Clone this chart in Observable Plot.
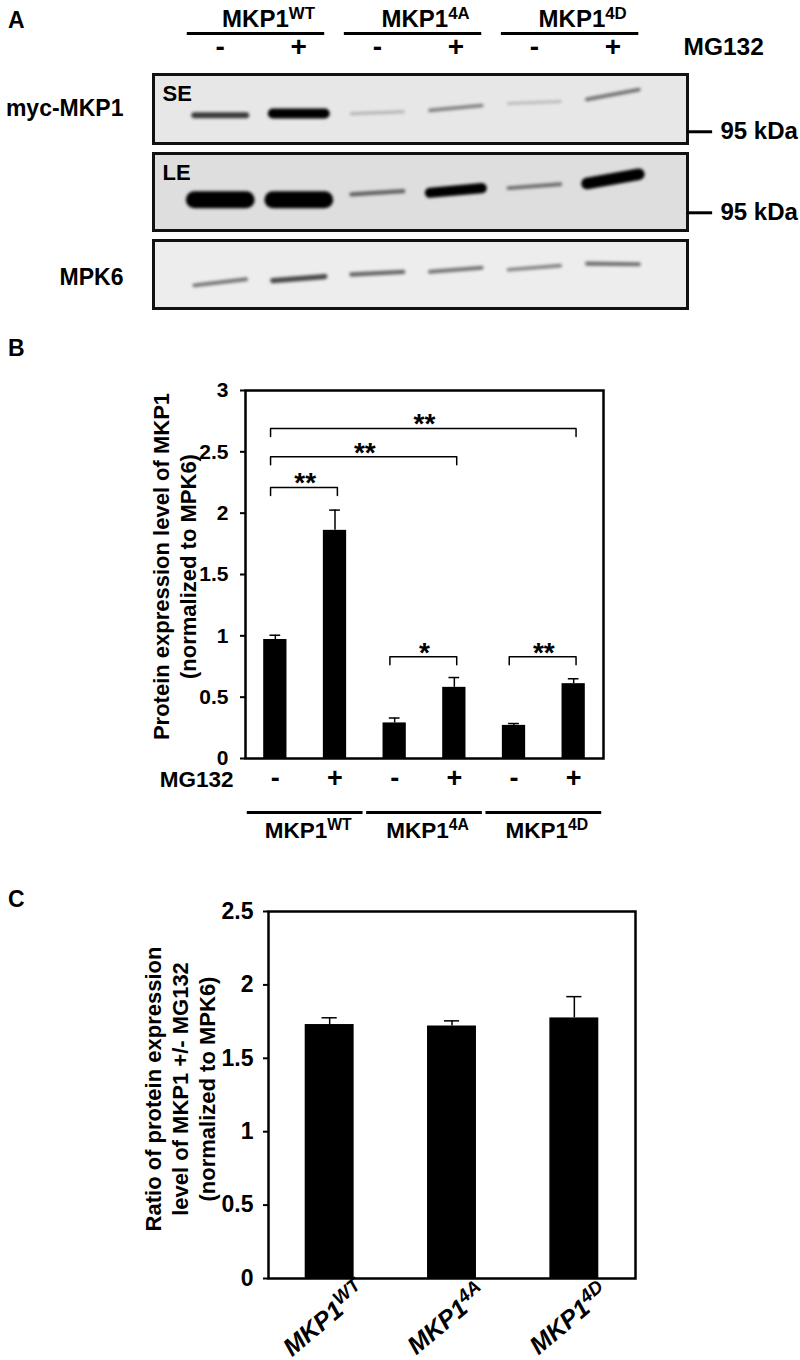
<!DOCTYPE html>
<html><head><meta charset="utf-8">
<script src="https://cdn.jsdelivr.net/npm/d3@7"></script>
<script src="https://cdn.jsdelivr.net/npm/@observablehq/plot@0.6"></script>
<style>
body{margin:0;background:#fff;}
#fig{position:relative;width:800px;height:1360px;overflow:hidden;font-family:"Liberation Sans",Arial,Helvetica,sans-serif;font-weight:bold;color:#000;background:#fff;}
#fig svg{position:absolute;left:0;overflow:visible;}
.panel{position:absolute;left:8px;font-size:23px;font-weight:bold;line-height:1;}
#fig g[aria-label^="y-axis"] line,#fig g[aria-label^="y-axis"] path{stroke-width:2px;}
</style></head><body><div id="fig"></div>
<script>
// ---------- data ----------
const lanes = [1, 2, 3, 4, 5, 6];
const mg132 = ["-", "+", "-", "+", "-", "+"];
const genotypes = ["MKP1^WT", "MKP1^4A", "MKP1^4D"];
const genoFirstLane = [1, 3, 5];
const genoLastLane = [2, 4, 6];

// blot band signal (0-1) and band position (fraction of strip height from top, left/right end)
const seSignal = [0.6, 0.8, 0.18, 0.35, 0.15, 0.4];
const seLeft  = [0.59, 0.565, 0.57, 0.52, 0.42, 0.36];
const seRight = [0.59, 0.565, 0.54, 0.45, 0.39, 0.22];
const leSignal = [1.0, 1.0, 0.45, 0.8, 0.4, 0.85];
const leLeft  = [0.60, 0.60, 0.53, 0.51, 0.45, 0.39];
const leRight = [0.60, 0.60, 0.49, 0.45, 0.40, 0.27];
const mpkSignal = [0.4, 0.55, 0.45, 0.4, 0.35, 0.42];
const mpkLeft  = [0.66, 0.59, 0.50, 0.46, 0.43, 0.34];
const mpkRight = [0.57, 0.53, 0.46, 0.40, 0.37, 0.35];
const marker95 = ["95 kDa"];
const markerSE = 0.83;
const markerLE = 0.77;

// panel B
const expr    = [0.97, 1.86, 0.29, 0.58, 0.27, 0.61];
const exprErr = [0.035, 0.165, 0.04, 0.08, 0.015, 0.04];
const sigFrom  = [1, 1, 1, 3, 5];
const sigTo    = [2, 4, 6, 4, 6];
const sigLevel = [2.21, 2.46, 2.69, 0.83, 0.83];
const sigLabel = ["**", "**", "**", "*", "**"];
const yLabelB = "Protein expression level of MKP1\n(normalized to MPK6)";

// panel C
const ratio    = [1.73, 1.72, 1.775];
const ratioErr = [0.046, 0.035, 0.145];
const yLabelC = "Ratio of protein expression\nlevel of MKP1 +/- MG132\n(normalized to MPK6)";

// ---------- helpers ----------
const W = 800;
const FONT = "'Liberation Sans', Arial, Helvetica, sans-serif";
const baseStyle = {fontFamily: FONT, fontWeight: "bold", fontSize: "20px", color: "#000", background: "transparent", overflow: "visible"};
const fig = document.getElementById("fig");
function place(svg, top) { svg.style.top = top + "px"; fig.append(svg); return svg; }
function supify(svg, raise, size) {
  const ns = "http://www.w3.org/2000/svg";
  svg.querySelectorAll("text").forEach(t => {
    const s = t.textContent;
    if (!s.includes("^") || t.querySelector("tspan")) return;
    const [a, b] = s.split("^");
    t.textContent = "";
    const t1 = document.createElementNS(ns, "tspan"); t1.textContent = a;
    const t2 = document.createElementNS(ns, "tspan"); t2.textContent = b;
    t2.setAttribute("font-size", size || "0.7em"); t2.setAttribute("dy", -raise);
    t.append(t1, t2);
  });
}
function panelLetter(letter, top) {
  const d = document.createElement("div"); d.className = "panel"; d.textContent = letter; d.style.top = top + "px"; fig.append(d);
}

// ---------- panel A ----------
panelLetter("A", 9);
const laneX = [0.15, 6.95];
const header = Plot.plot({
  width: W, height: 66, marginLeft: 153, marginRight: 113, marginTop: 0, marginBottom: 0,
  x: {domain: laneX, axis: null},
  y: {type: "point", domain: ["group", "line", "sign"], range: [12, 54], axis: null},
  style: baseStyle,
  marks: [
    Plot.ruleY(genotypes, {y: () => "line", x1: (d, i) => genoFirstLane[i] - 0.42, x2: (d, i) => genoLastLane[i] + 0.33, strokeWidth: 3}),
    Plot.text(genotypes, {x: (d, i) => (genoFirstLane[i] + genoLastLane[i]) / 2, y: () => "group", text: d => d, dx: 9, fontSize: 24}),
    Plot.text(lanes, {x: d => d, y: () => "sign", text: (d, i) => mg132[i], fontSize: 28}),
    Plot.text(["MG132"], {frameAnchor: "right", y: () => "sign", text: d => d, textAnchor: "start", dx: -4, fontSize: 24.5})
  ]
});
supify(header, 8);
place(header, 0);

function strip(signal, left, right, opts) {
  const data = lanes.map((lane, i) => ({lane, v: signal[i], yl: left[i], yr: right[i]}));
  const marks = [
    Plot.frame({fill: opts.fill}),
    Plot.link(data, {x1: d => d.lane - 0.33, x2: d => d.lane + 0.33, y1: "yl", y2: "yr", stroke: "#000",
      strokeOpacity: d => Math.min(1, d.v / 0.8), strokeWidth: d => 3 + 14 * d.v ** 3, strokeLinecap: "round"}),
    Plot.frame({stroke: "#111", strokeWidth: 3})
  ];
  if (opts.tag) marks.push(Plot.text([opts.tag], {frameAnchor: "top-left", text: d => d, dx: 9, dy: 11, lineAnchor: "top", textAnchor: "start", fontSize: 22}));
  if (opts.row) marks.push(Plot.text([opts.row], {frameAnchor: "left", text: d => d, textAnchor: "end", dx: -30, dy: opts.rowDy || 0, fontSize: 23}));
  if (opts.marker != null) {
    marks.push(Plot.ruleY([opts.marker], {y: d => d, x1: () => laneX[1], x2: () => laneX[1] + 0.32, strokeWidth: 3}));
    marks.push(Plot.text(marker95, {y: () => opts.marker, x: () => laneX[1], text: d => d, textAnchor: "start", dx: 33, fontSize: 24}));
  }
  const svg = Plot.plot({
    width: W, height: opts.height, marginLeft: 153, marginRight: 113, marginTop: 4, marginBottom: 4,
    x: {domain: laneX, axis: null},
    y: {domain: [0, 1], reverse: true, axis: null},
    opacity: {domain: [0, 1], range: [0, 1]},
    style: baseStyle,
    marks
  });
  svg.querySelectorAll('g[aria-label="link"]').forEach(g => g.style.filter = "blur(1.8px)");
  return place(svg, opts.top);
}
strip(seSignal, seLeft, seRight, {fill: "#e7e7e7", tag: "SE", row: "myc-MKP1", marker: markerSE, top: 70, height: 77});
strip(leSignal, leLeft, leRight, {fill: "#dedede", tag: "LE", marker: markerLE, top: 149, height: 85});
strip(mpkSignal, mpkLeft, mpkRight, {fill: "#ededed", row: "MPK6", rowDy: 3, top: 236, height: 76});

// ---------- panel B ----------
panelLetter("B", 337);
const bBars = lanes.map((i, k) => ({i, v: expr[k], e: exprErr[k], s: mg132[k]}));
const bGroups = genotypes.map((g, k) => ({g, a: genoFirstLane[k], b: genoLastLane[k]}));
const brackets = sigFrom.map((a, k) => ({a, b: sigTo[k], y: sigLevel[k], t: sigLabel[k]}));
const bracketPts = brackets.flatMap((d, k) => {
  const x1 = d.a - 0.08, x2 = d.b + 0.04, drop = 0.065;
  return [{k, x: x1, y: d.y - drop}, {k, x: x1, y: d.y}, {k, x: x2, y: d.y}, {k, x: x2, y: d.y - drop}];
});
const plotB = Plot.plot({
  width: W, height: 530, marginTop: 60, marginBottom: 102, marginLeft: 245, marginRight: 197,
  x: {domain: [0.5, 6.5], axis: null},
  y: {domain: [0, 3], ticks: 6, tickFormat: "~g", tickSize: 5, tickPadding: 12, label: null},
  style: {...baseStyle, fontSize: "21px"},
  marks: [
    Plot.rect(bBars, {x1: d => d.i - 0.195, x2: d => d.i + 0.195, y1: () => 0, y2: "v", fill: "#000"}),
    Plot.ruleX(bBars, {x: "i", y1: "v", y2: d => d.v + d.e, strokeWidth: 1.5}),
    Plot.ruleY(bBars, {y: d => d.v + d.e, x1: d => d.i - 0.09, x2: d => d.i + 0.09, strokeWidth: 1.5}),
    Plot.line(bracketPts, {x: "x", y: "y", z: "k", strokeWidth: 1.5}),
    Plot.text(brackets, {x: d => (d.a + d.b) / 2, y: "y", text: "t", dy: -4, fontSize: 28}),
    Plot.frame({stroke: "#000", strokeWidth: 2.5}),
    Plot.text([yLabelB], {frameAnchor: "left", text: d => d, rotate: -90, textAnchor: "middle", lineAnchor: "middle", dx: -72, dy: -8, fontSize: 22, lineHeight: 1.22}),
    Plot.text(bBars, {x: "i", text: "s", frameAnchor: "bottom", dy: 28, fontSize: 27}),
    Plot.text(["MG132"], {frameAnchor: "bottom-left", text: d => d, textAnchor: "end", dx: -12, dy: 28, fontSize: 22.5}),
    Plot.ruleY(bGroups, {y: () => 0, x1: d => d.a - 0.47, x2: d => d.b + 0.47, dy: 54, strokeWidth: 3}),
    Plot.text(bGroups, {x: d => (d.a + d.b) / 2, text: "g", frameAnchor: "bottom", dy: 79, dx: 3, fontSize: 22.5})
  ]
});
supify(plotB, 8);
place(plotB, 330);

// ---------- panel C ----------
panelLetter("C", 888);
const cBars = genotypes.map((g, k) => ({i: k + 1, g, v: ratio[k], e: ratioErr[k]}));
const plotC = Plot.plot({
  width: W, height: 480, marginTop: 31, marginBottom: 82, marginLeft: 268, marginRight: 165,
  x: {domain: [0.5, 3.5], axis: null},
  y: {domain: [0, 2.5], ticks: 5, tickFormat: "~g", tickSize: 5, tickPadding: 10, label: null},
  style: {...baseStyle, fontSize: "23px"},
  marks: [
    Plot.rect(cBars, {x1: d => d.i - 0.2, x2: d => d.i + 0.2, y1: () => 0, y2: "v", fill: "#000"}),
    Plot.ruleX(cBars, {x: "i", y1: "v", y2: d => d.v + d.e, strokeWidth: 1.5}),
    Plot.ruleY(cBars, {y: d => d.v + d.e, x1: d => d.i - 0.062, x2: d => d.i + 0.062, strokeWidth: 1.5}),
    Plot.frame({stroke: "#000", strokeWidth: 2.5}),
    Plot.text([yLabelC], {frameAnchor: "left", text: d => d, rotate: -90, textAnchor: "middle", lineAnchor: "middle", dx: -89, dy: -6, fontSize: 22, lineHeight: 1.21}),
    Plot.text(cBars, {x: "i", text: "g", frameAnchor: "bottom", dy: 47, rotate: -40, fontStyle: "italic", fontSize: 25})
  ]
});
supify(plotC, 9, "0.75em");
place(plotC, 880);
</script></body></html>
